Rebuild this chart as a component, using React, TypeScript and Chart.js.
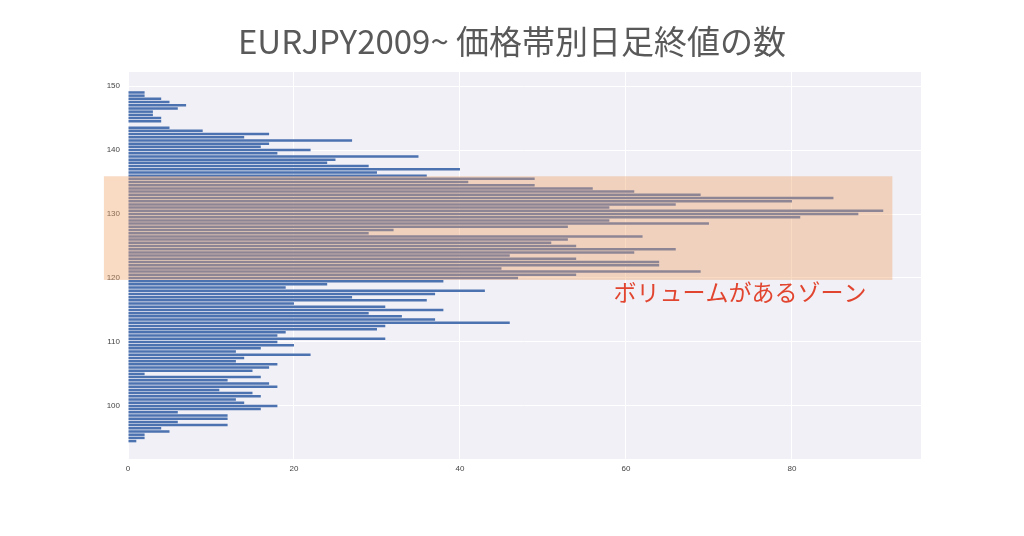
import React, { useEffect, useRef } from "react";
import { Chart, registerables } from "chart.js";

Chart.register(...registerables);

const TITLE = "EURJPY2009~ 価格帯別日足終値の数";
const ZONE_LABEL = "ボリュームがあるゾーン";

// price level (bin centre, JPY) of each bar, top to bottom
const priceLevels = [
  149, 148.5, 148, 147.5, 147, 146.5, 146, 145.5, 145, 144.5,
  144, 143.5, 143, 142.5, 142, 141.5, 141, 140.5, 140, 139.5,
  139, 138.5, 138, 137.5, 137, 136.5, 136, 135.5, 135, 134.5,
  134, 133.5, 133, 132.5, 132, 131.5, 131, 130.5, 130, 129.5,
  129, 128.5, 128, 127.5, 127, 126.5, 126, 125.5, 125, 124.5,
  124, 123.5, 123, 122.5, 122, 121.5, 121, 120.5, 120, 119.5,
  119, 118.5, 118, 117.5, 117, 116.5, 116, 115.5, 115, 114.5,
  114, 113.5, 113, 112.5, 112, 111.5, 111, 110.5, 110, 109.5,
  109, 108.5, 108, 107.5, 107, 106.5, 106, 105.5, 105, 104.5,
  104, 103.5, 103, 102.5, 102, 101.5, 101, 100.5, 100, 99.5,
  99, 98.5, 98, 97.5, 97, 96.5, 96, 95.5, 95, 94.5,
];

// number of daily closes in each price band
const closeCounts = [
  2, 2, 4, 5, 7, 6, 3, 3, 4, 4,
  0, 5, 9, 17, 14, 27, 17, 16, 22, 18,
  35, 25, 24, 29, 40, 30, 36, 49, 41, 49,
  56, 61, 69, 85, 80, 66, 58, 91, 88, 81,
  58, 70, 53, 32, 29, 62, 53, 51, 54, 66,
  61, 46, 54, 64, 64, 45, 69, 54, 47, 38,
  24, 19, 43, 37, 27, 36, 20, 31, 38, 29,
  33, 37, 46, 31, 30, 19, 18, 31, 18, 20,
  16, 13, 22, 14, 13, 18, 17, 15, 2, 16,
  12, 17, 18, 11, 15, 16, 13, 14, 18, 16,
  6, 12, 12, 6, 12, 4, 5, 2, 2, 1,
];

const xTicks = [0, 20, 40, 60, 80];
const yTicks = [100, 110, 120, 130, 140, 150];
const xRange = [0, 95.55];
const yRange = [91.7, 152.2];

// highlighted "volume zone" (data units)
const zoneY = [119.7, 135.9];
const zoneX = [-2.9, 92.1];
const zoneLabelPos = [58.5, 117.8];

const BAR_COLOR = "#4C72B0";
const PLOT_BG = "#F0F0F6";
const ZONE_FILL = "rgba(240,163,106,0.4)";
const LABEL_RED = "#E2452F";
const TICK_FONT = { family: "'Liberation Sans', Arial, sans-serif", size: 8 };

const bgPlugin = {
  id: "plotBg",
  beforeDraw(chart: any) {
    const { ctx, chartArea } = chart;
    ctx.save();
    ctx.fillStyle = PLOT_BG;
    ctx.fillRect(chartArea.left, chartArea.top, chartArea.right - chartArea.left, chartArea.bottom - chartArea.top);
    ctx.restore();
  },
};

const zonePlugin = {
  id: "zone",
  afterDraw(chart: any) {
    const { ctx } = chart;
    const xs = chart.scales.x;
    const ys = chart.scales.y;
    const x1 = xs.getPixelForValue(zoneX[0]);
    const x2 = xs.getPixelForValue(zoneX[1]);
    const y1 = ys.getPixelForValue(zoneY[1]);
    const y2 = ys.getPixelForValue(zoneY[0]);
    ctx.save();
    ctx.fillStyle = ZONE_FILL;
    ctx.fillRect(x1, y1, x2 - x1, y2 - y1);
    ctx.fillStyle = LABEL_RED;
    ctx.font = "23px 'Noto Sans CJK JP', sans-serif";
    ctx.textAlign = "left";
    ctx.textBaseline = "middle";
    ctx.fillText(ZONE_LABEL, xs.getPixelForValue(zoneLabelPos[0]), ys.getPixelForValue(zoneLabelPos[1]));
    ctx.restore();
  },
};

export default function App() {
  const canvasRef = useRef<HTMLCanvasElement | null>(null);

  useEffect(() => {
    if (!canvasRef.current) return;
    const chart = new Chart(canvasRef.current, {
      type: "bar",
      data: {
        datasets: [
          {
            data: priceLevels.map((p, i) => ({ x: closeCounts[i], y: p })),
            backgroundColor: BAR_COLOR,
            borderWidth: 0,
            barPercentage: 0.78,
            categoryPercentage: 1,
          },
        ],
      },
      options: {
        indexAxis: "y",
        animation: false,
        responsive: false,
        devicePixelRatio: 1,
        layout: { padding: 0 },
        plugins: {
          legend: { display: false },
          tooltip: { enabled: false },
          title: {
            display: true,
            text: TITLE,
            color: "#595959",
            font: { family: "'Noto Sans CJK JP', sans-serif", size: 33, weight: "normal" },
            padding: { top: 22, bottom: 10.4 },
          },
        },
        scales: {
          x: {
            type: "linear",
            min: xRange[0],
            max: xRange[1],
            offset: false,
            afterBuildTicks: (s: any) => {
              s.ticks = xTicks.map((v) => ({ value: v }));
            },
            afterFit: (s: any) => {
              s.height = 77;
            },
            ticks: { color: "#444", font: TICK_FONT, padding: 5, maxRotation: 0 },
            grid: { color: "#FFFFFF", lineWidth: 1, drawTicks: false, offset: false },
            border: { display: false },
          },
          y: {
            type: "linear",
            min: yRange[0],
            max: yRange[1],
            offset: false,
            afterBuildTicks: (s: any) => {
              s.ticks = yTicks.map((v) => ({ value: v }));
            },
            afterFit: (s: any) => {
              s.width = 128;
            },
            ticks: { color: "#444", font: TICK_FONT, padding: 8 },
            grid: { color: "#FFFFFF", lineWidth: 1, drawTicks: false, offset: false },
            border: { display: false },
          },
          rightSpace: {
            type: "linear",
            position: "right",
            axis: "y",
            min: yRange[0],
            max: yRange[1],
            display: true,
            afterFit: (s: any) => {
              s.width = 103;
            },
            ticks: { display: false },
            grid: { display: false, drawTicks: false },
            border: { display: false },
          },
        },
      },
      plugins: [bgPlugin, zonePlugin],
    } as any);
    return () => chart.destroy();
  }, []);

  return (
    <div style={{ position: "absolute", left: 0, top: 0, width: 1024, height: 536, background: "#fff" }}>
      <canvas ref={canvasRef} width={1024} height={536} style={{ display: "block" }} />
    </div>
  );
}
